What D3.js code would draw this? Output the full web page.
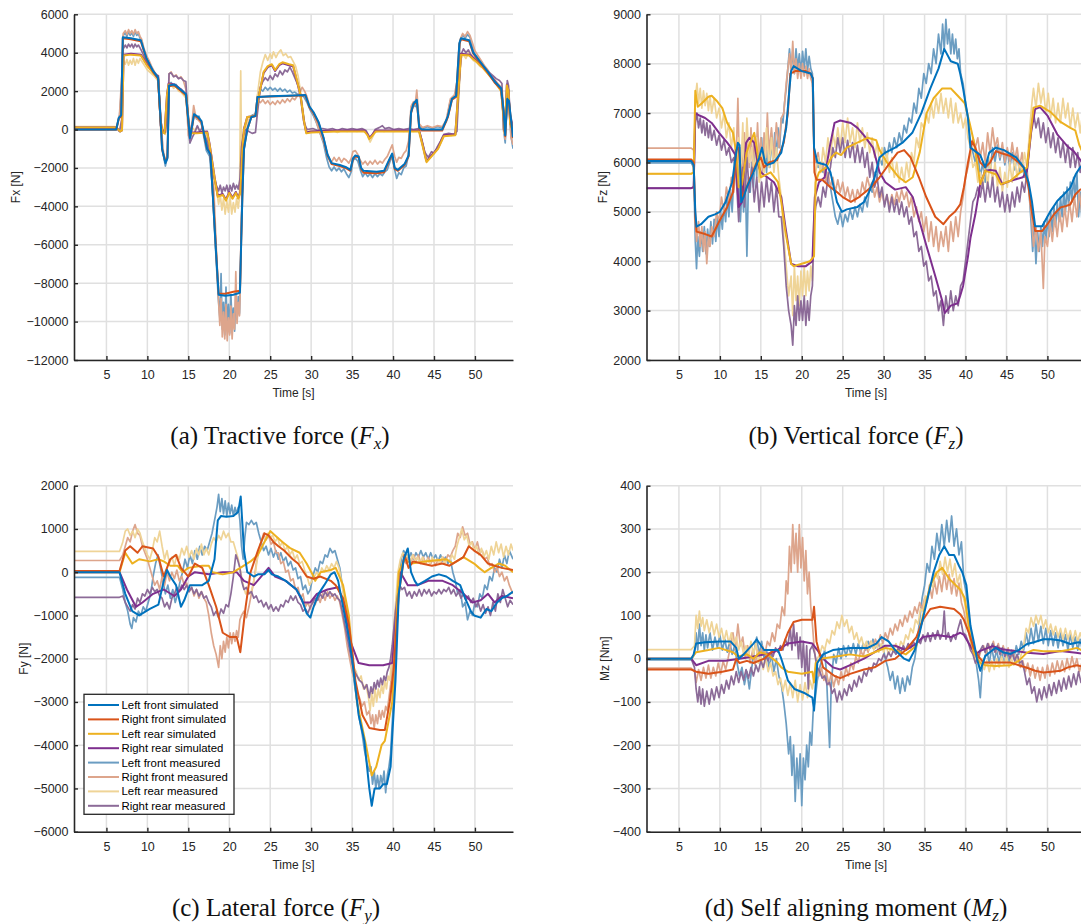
<!DOCTYPE html>
<html>
<head>
<meta charset="utf-8">
<script src="https://cdn.jsdelivr.net/npm/d3@7"></script>
<style>
  body { margin: 0; background: #fff; }
  svg { display: block; }
</style>
</head>
<body>
<svg id="fig" width="1081" height="924"></svg>
<script>
// shared axis settings
const timeDomain = [1.04, 54.65];
const timeTicks = [5, 10, 15, 20, 25, 30, 35, 40, 45, 50];
const seriesNames = ["Left front simulated", "Right front simulated", "Left rear simulated", "Right rear simulated",
  "Left front measured", "Right front measured", "Left rear measured", "Right rear measured"];
const simColors = ["#0072bd", "#d95319", "#edb120", "#7e2f8e"];
const measColors = ["#6b9dc2", "#dda58c", "#efd497", "#8c6b98"];

const fxTicks = [-12000, -10000, -8000, -6000, -4000, -2000, 0, 2000, 4000, 6000];
const fzTicks = [2000, 3000, 4000, 5000, 6000, 7000, 8000, 9000];
const fyTicks = [-6000, -5000, -4000, -3000, -2000, -1000, 0, 1000, 2000];
const mzTicks = [-400, -300, -200, -100, 0, 100, 200, 300, 400];

// ---------- (a) Fx [N] ----------
const fxLFsim = [[1.04,0],[6.2,0],[6.5,600],[6.8,750],[7.0,4800],[8.0,4750],[9.2,4650],[9.9,3700],[10.7,3050],[11.3,2700],[11.55,1000],[11.8,-1000],[12.2,-1750],[12.45,-1500],[12.65,2300],[13.3,2350],[14.0,2100],[14.7,1850],[15.0,500],[15.2,-450],[15.5,300],[15.7,800],[16.2,650],[16.6,450],[16.9,-200],[17.3,-1000],[17.7,-1300],[18.0,-3500],[18.4,-6500],[18.7,-8600],[19.5,-8650],[20.5,-8600],[21.3,-8500],[21.45,-6000],[21.6,-3500],[21.8,-1000],[22.2,0],[22.7,650],[23.2,700],[23.45,1700],[25,1730],[27,1760],[29.3,1800],[29.8,1200],[30.3,900],[30.9,400],[31.5,-400],[32.0,-1300],[32.5,-1750],[33.5,-1850],[34.2,-1950],[34.8,-2100],[35.1,-1500],[35.4,-1350],[35.8,-1400],[36.1,-2000],[36.4,-2150],[38,-2200],[38.9,-2150],[39.6,-1500],[39.9,-1250],[40.2,-2000],[40.6,-2100],[41.4,-1800],[41.9,-1350],[42.2,900],[42.5,1350],[42.9,1550],[43.2,100],[43.5,0],[46,0],[46.7,700],[47.2,1600],[47.7,1750],[48.1,4500],[48.3,4750],[49.3,4650],[49.8,4000],[50.7,3500],[51.6,3000],[52.4,2500],[53.2,2150],[53.5,1000],[53.7,-300],[53.95,1600],[54.15,1500],[54.65,-400]];
const fxRFsim = [[1.04,0],[6.2,0],[6.5,550],[6.8,700],[7.0,4750],[8.0,4700],[9.2,4600],[9.9,3650],[10.7,3000],[11.3,2650],[11.55,900],[11.8,-1050],[12.2,-1700],[12.45,-1450],[12.65,2250],[13.3,2300],[14.0,2050],[14.7,1800],[15.0,450],[15.2,-400],[15.5,250],[15.7,750],[16.2,600],[16.6,400],[16.9,-250],[17.3,-1000],[17.7,-1250],[18.0,-3400],[18.4,-6400],[18.7,-8550],[19.5,-8550],[20.5,-8450],[21.3,-8400],[21.45,-5900],[21.6,-3400],[21.8,-950],[22.2,0],[22.7,650],[23.2,700],[23.45,1700],[25,1720],[27,1750],[29.3,1780],[29.8,1150],[30.3,850],[30.9,350],[31.5,-450],[32.0,-1350],[32.5,-1800],[33.5,-1900],[34.2,-2000],[34.8,-2150],[35.1,-1550],[35.4,-1400],[35.8,-1450],[36.1,-2050],[36.4,-2250],[38,-2280],[38.9,-2230],[39.6,-1550],[39.9,-1300],[40.2,-2050],[40.6,-2150],[41.4,-1850],[41.9,-1400],[42.2,850],[42.5,1300],[42.9,1500],[43.2,50],[43.5,-50],[46,-50],[46.7,650],[47.2,1550],[47.7,1700],[48.1,4450],[48.3,4700],[49.3,4600],[49.8,3950],[50.7,3450],[51.6,2950],[52.4,2450],[53.2,2100],[53.5,950],[53.7,-350],[53.95,1550],[54.15,1450],[54.65,-450]];
const fxLRsim = [[1.04,100],[6.2,100],[6.7,-100],[6.9,-50],[7.1,3850],[8,3900],[9.2,3850],[10,3300],[10.8,2900],[11.3,2700],[11.6,500],[11.85,-150],[12.1,-200],[12.4,1800],[12.6,2350],[13.3,2300],[14.2,2000],[14.75,1750],[15.0,600],[15.2,-200],[16,-200],[17.3,-150],[17.6,-800],[18.2,-2500],[18.6,-3500],[19.2,-3400],[19.6,-3700],[20,-3300],[20.4,-3600],[20.8,-3300],[21.1,-3600],[21.35,-3300],[21.6,-1000],[21.8,0],[22.2,650],[23.2,700],[23.5,1500],[24.2,3000],[24.7,3300],[25.2,3400],[25.6,3100],[26.1,3400],[26.5,3500],[27.3,3400],[27.8,3350],[28.3,2500],[28.7,1800],[29.1,500],[29.4,-200],[30,-150],[33,-100],[36.5,-100],[36.9,-300],[37.1,-500],[37.5,-300],[37.9,-100],[40,-100],[43.2,-100],[43.6,-800],[44.1,-1700],[44.7,-1400],[45.5,-1000],[46.2,-350],[47.6,-300],[47.9,1500],[48.3,3900],[49.3,3850],[50,3600],[51,3200],[52.4,2500],[53.2,2000],[53.5,600],[53.65,-200],[53.9,2300],[54.1,2000],[54.3,300],[54.65,-100]];
const fxRRsim = [[1.04,100],[6.2,100],[6.7,-100],[6.9,-50],[7.1,3900],[8,3950],[9.2,3900],[10,3350],[10.8,2950],[11.3,2750],[11.6,500],[11.85,-100],[12.1,-150],[12.4,1850],[12.6,2400],[13.3,2350],[14.2,2050],[14.75,1800],[15.0,600],[15.2,-150],[16,-150],[17.3,-100],[17.6,-750],[18.2,-2450],[18.6,-3450],[19.2,-3350],[19.6,-3650],[20,-3250],[20.4,-3550],[20.8,-3250],[21.1,-3550],[21.35,-3250],[21.6,-950],[21.8,50],[22.2,650],[23.2,700],[23.5,1500],[24.2,2950],[24.7,3250],[25.2,3350],[25.6,3050],[26.1,3350],[26.5,3450],[27.3,3350],[27.8,3300],[28.3,2450],[28.7,1750],[29.1,450],[29.4,-150],[30,-100],[33,-50],[36.5,-50],[36.9,-250],[37.1,-450],[37.5,-250],[37.9,-50],[40,-50],[43.2,-50],[43.6,-750],[44.1,-1650],[44.7,-1350],[45.5,-950],[46.2,-300],[47.6,-250],[47.9,1550],[48.3,3950],[49.3,3900],[50,3650],[51,3250],[52.4,2550],[53.2,2050],[53.5,650],[53.65,-150],[53.9,2350],[54.1,2050],[54.3,350],[54.65,-50]];
const fxLFmeas = [[1.04,0],[6.2,0],[6.6,700],[6.9,2500],[7.05,4900],[7.3,5050],[7.5,4850],[7.7,5100],[7.9,4900],[8.1,5050],[8.3,4850],[8.5,5100],[8.7,4900],[8.9,5000],[9.1,4750],[9.3,4650],[9.6,4100],[9.9,3800],[10.2,3500],[10.5,3250],[10.8,3000],[11.1,2800],[11.35,2600],[11.6,800],[11.9,-1200],[12.2,-1900],[12.45,-1400],[12.65,2250],[12.9,2450],[13.2,2250],[13.5,2350],[13.8,2150],[14.1,2100],[14.4,1950],[14.7,1750],[15,300],[15.2,-700],[15.5,200],[15.7,900],[16.0,550],[16.3,700],[16.6,300],[16.9,-400],[17.2,-1100],[17.6,-1400],[17.9,-2800],[18.3,-6000],[18.65,-8700],[18.85,-9800],[19.0,-7500],[19.15,-10400],[19.3,-9000],[19.45,-10700],[19.6,-8200],[19.75,-10300],[19.9,-9100],[20.05,-10600],[20.2,-8600],[20.35,-10200],[20.5,-9300],[20.65,-10500],[20.8,-8500],[20.95,-9900],[21.1,-8700],[21.25,-9600],[21.35,-8000],[21.5,-4500],[21.7,-1500],[22.0,-300],[22.4,500],[22.8,750],[23.2,800],[23.5,1900],[23.8,2100],[24.1,2000],[24.4,2200],[24.7,2050],[25.0,2200],[25.3,2050],[25.6,2150],[25.9,2000],[26.2,2150],[26.5,2000],[26.8,2100],[27.1,1950],[27.4,2050],[27.7,1900],[28.0,1950],[28.3,1850],[28.7,1800],[29.1,1700],[29.5,1400],[29.9,1000],[30.3,700],[30.7,300],[31.1,-200],[31.5,-700],[31.9,-1500],[32.2,-1950],[32.5,-2150],[32.8,-1950],[33.1,-2150],[33.4,-2000],[33.7,-2200],[34.0,-2050],[34.3,-2300],[34.6,-2500],[34.9,-2200],[35.1,-1600],[35.4,-1500],[35.7,-1650],[36.0,-2100],[36.3,-2450],[36.6,-2250],[36.9,-2450],[37.2,-2300],[37.5,-2500],[37.8,-2300],[38.1,-2450],[38.4,-2300],[38.7,-2400],[39.0,-2200],[39.3,-2100],[39.6,-1700],[39.9,-1400],[40.2,-2100],[40.45,-2550],[40.7,-2250],[41.0,-2350],[41.3,-2000],[41.6,-1900],[41.9,-1300],[42.2,900],[42.5,1300],[42.7,1200],[42.9,1650],[43.2,200],[43.6,50],[44.2,150],[44.8,50],[45.4,150],[46.0,100],[46.5,400],[47.0,1500],[47.5,1700],[47.9,2500],[48.2,4600],[48.5,4950],[48.8,4750],[49.1,4950],[49.4,4800],[49.7,4300],[50.0,3900],[50.3,3750],[50.6,3500],[50.9,3400],[51.2,3150],[51.5,3050],[51.8,2800],[52.1,2700],[52.4,2500],[52.7,2400],[53.0,2250],[53.3,2000],[53.5,0],[53.7,-700],[53.95,1800],[54.2,1200],[54.4,-300],[54.65,-1000]];
const fxRFmeas = [[1.04,0],[6.2,0],[6.6,800],[6.9,3000],[7.05,5000],[7.3,5150],[7.5,4950],[7.7,5200],[7.9,5000],[8.1,5150],[8.3,4950],[8.5,5200],[8.7,5000],[8.9,5100],[9.1,4850],[9.3,4700],[9.6,4200],[9.9,3850],[10.2,3600],[10.5,3300],[10.8,3050],[11.1,2850],[11.35,2700],[11.6,900],[11.9,-1000],[12.2,-1700],[12.45,-1200],[12.65,2900],[12.9,3000],[13.2,2750],[13.5,2850],[13.8,2650],[14.1,2750],[14.4,2550],[14.7,2100],[15,-300],[15.2,-500],[15.5,600],[15.65,1250],[15.9,700],[16.2,500],[16.5,350],[16.8,100],[17.1,-500],[17.4,-900],[17.8,-1300],[18.1,-2900],[18.4,-6000],[18.65,-8600],[18.85,-10200],[19.0,-8800],[19.15,-10800],[19.3,-9500],[19.45,-10900],[19.6,-9100],[19.75,-11000],[19.9,-9800],[20.05,-10700],[20.2,-9200],[20.35,-10900],[20.5,-9600],[20.65,-10400],[20.8,-7400],[20.95,-10100],[21.1,-9000],[21.25,-9700],[21.35,-8200],[21.5,-4800],[21.7,-1500],[22.0,-300],[22.4,400],[22.8,700],[23.2,800],[23.5,1500],[23.8,1400],[24.1,1550],[24.4,1350],[24.7,1500],[25.0,1300],[25.3,1450],[25.6,1300],[25.9,1500],[26.2,1350],[26.5,1550],[26.8,1400],[27.1,1600],[27.4,1450],[27.7,1650],[28.0,1550],[28.3,1750],[28.6,1900],[28.9,2200],[29.2,2000],[29.5,1700],[29.9,1100],[30.3,800],[30.7,300],[31.1,-200],[31.5,-600],[31.9,-1200],[32.2,-1500],[32.5,-1700],[32.8,-1450],[33.1,-1650],[33.4,-1450],[33.7,-1700],[34.0,-1500],[34.3,-1600],[34.6,-1750],[34.9,-1500],[35.1,-1150],[35.4,-1100],[35.7,-1300],[36.0,-1600],[36.3,-1800],[36.6,-1650],[36.9,-1850],[37.2,-1650],[37.5,-1800],[37.8,-1600],[38.1,-1800],[38.4,-1650],[38.7,-1750],[39.0,-1550],[39.3,-1400],[39.6,-1100],[39.9,-800],[40.2,-1400],[40.45,-1700],[40.7,-1450],[41.0,-1500],[41.3,-1250],[41.6,-1100],[41.9,-600],[42.2,1200],[42.5,1450],[42.7,1300],[42.9,2050],[43.2,300],[43.6,100],[44.2,200],[44.8,100],[45.4,200],[46.0,150],[46.5,500],[47.0,1600],[47.5,1800],[47.9,2700],[48.2,4700],[48.5,5000],[48.8,4850],[49.1,5100],[49.4,4900],[49.7,4500],[50.0,4100],[50.3,3900],[50.6,3700],[50.9,3500],[51.2,3300],[51.5,3150],[51.8,2950],[52.1,2750],[52.4,2600],[52.7,2450],[53.0,2300],[53.3,2150],[53.5,100],[53.7,-500],[53.95,1600],[54.2,1000],[54.4,-400],[54.65,-800]];
const fxLRmeas = [[1.04,150],[6.2,150],[6.6,-100],[6.9,500],[7.05,3600],[7.3,3400],[7.5,3650],[7.7,3350],[7.9,3600],[8.1,3400],[8.3,3700],[8.5,3350],[8.7,3650],[8.9,3450],[9.1,3700],[9.4,3500],[9.7,3300],[10.0,3100],[10.4,2950],[10.8,2800],[11.1,2650],[11.35,2500],[11.6,300],[11.9,-150],[12.2,-250],[12.45,500],[12.65,2250],[12.9,2350],[13.2,2150],[13.5,2250],[13.8,2000],[14.1,1950],[14.4,1800],[14.7,1650],[15,200],[15.2,-300],[15.5,100],[15.8,-50],[16.1,150],[16.4,-100],[16.7,0],[17.0,-200],[17.3,-400],[17.6,-1000],[17.9,-1800],[18.2,-2800],[18.5,-3300],[18.7,-3900],[18.9,-3400],[19.1,-4200],[19.3,-3600],[19.5,-4400],[19.7,-3700],[19.9,-4300],[20.1,-3500],[20.3,-4400],[20.5,-3800],[20.7,-4300],[20.9,-3600],[21.1,-4100],[21.25,-3500],[21.4,3050],[21.5,-1500],[21.7,-400],[22.0,100],[22.4,550],[22.8,700],[23.2,750],[23.5,2000],[23.8,3000],[24.1,3500],[24.4,3900],[24.7,3600],[25.0,3950],[25.2,3700],[25.4,4050],[25.7,3750],[26.0,4000],[26.3,4150],[26.6,3850],[26.9,3950],[27.2,3750],[27.5,3800],[27.8,3550],[28.1,3300],[28.4,2800],[28.7,2000],[29.0,1000],[29.3,0],[29.6,-100],[30.2,-50],[30.8,-150],[31.4,-50],[32.0,-100],[32.6,-50],[33.2,-150],[33.8,-50],[34.4,-100],[35.0,-50],[35.6,-100],[36.2,-50],[36.7,-150],[37.0,-450],[37.2,-650],[37.5,-400],[37.8,-150],[38.3,-50],[38.9,-100],[39.5,-50],[40.1,-100],[40.7,-50],[41.3,-100],[41.9,-50],[42.5,-100],[43.1,-50],[43.5,-700],[44.0,-1600],[44.5,-1500],[45.0,-1250],[45.5,-950],[46.0,-400],[46.6,-250],[47.2,-300],[47.7,-250],[48.0,1500],[48.3,3700],[48.6,3900],[48.9,3700],[49.2,4000],[49.5,3750],[49.8,3600],[50.2,3500],[50.6,3300],[51.0,3200],[51.4,3000],[51.8,2800],[52.2,2600],[52.6,2350],[53.0,2150],[53.3,1900],[53.5,-100],[53.7,-300],[53.95,2200],[54.1,2000],[54.3,400],[54.65,-200]];
const fxRRmeas = [[1.04,100],[6.2,100],[6.6,-100],[6.9,600],[7.05,4200],[7.3,4400],[7.5,4250],[7.7,4450],[7.9,4300],[8.1,4450],[8.3,4250],[8.5,4450],[8.7,4300],[8.9,4400],[9.1,4250],[9.4,4000],[9.7,3700],[10.0,3500],[10.4,3200],[10.8,3000],[11.1,2850],[11.35,2800],[11.6,200],[11.9,-50],[12.2,-150],[12.45,800],[12.65,2900],[12.9,2950],[13.2,2750],[13.5,2800],[13.8,2650],[14.1,2700],[14.4,2550],[14.7,2500],[15,300],[15.2,-700],[15.5,-400],[15.8,-150],[16.1,200],[16.4,-100],[16.7,100],[17.0,-300],[17.3,-600],[17.6,-1200],[17.9,-2000],[18.2,-2600],[18.5,-3000],[18.7,-3200],[18.9,-2900],[19.1,-3300],[19.3,-3000],[19.5,-3200],[19.7,-2900],[19.9,-3300],[20.1,-2900],[20.3,-3200],[20.5,-2800],[20.7,-3100],[20.9,-2900],[21.1,-3100],[21.3,-2600],[21.5,-900],[21.7,-300],[22.0,0],[22.4,-100],[22.8,-200],[23.2,-150],[23.4,700],[23.8,2200],[24.1,2500],[24.4,2700],[24.7,2550],[25.0,2800],[25.3,2600],[25.6,2900],[25.9,2750],[26.2,3050],[26.5,2850],[26.8,3100],[27.1,3000],[27.4,3250],[27.7,3000],[28.0,2700],[28.3,2400],[28.6,2100],[28.9,1200],[29.2,300],[29.5,0],[30.2,50],[30.8,-50],[31.4,50],[32.0,0],[32.6,50],[33.2,-50],[33.8,50],[34.4,0],[35.0,50],[35.6,0],[36.2,50],[36.7,-50],[37.0,-300],[37.2,-450],[37.5,-250],[37.8,0],[38.3,100],[38.7,200],[39.0,50],[39.5,100],[40.1,0],[40.7,50],[41.3,0],[41.9,50],[42.5,0],[43.1,50],[43.5,-500],[43.9,-1200],[44.3,-1450],[44.7,-1150],[45.0,-1250],[45.4,-900],[45.8,-600],[46.2,-250],[46.8,-200],[47.4,-250],[47.8,-100],[48.0,1800],[48.3,3900],[48.6,4200],[48.9,4000],[49.2,4150],[49.5,3900],[49.8,3750],[50.2,3600],[50.6,3400],[51.0,3250],[51.4,3100],[51.8,2950],[52.2,2800],[52.6,2650],[53.0,2550],[53.3,2400],[53.5,0],[53.7,-200],[53.95,2550],[54.1,2300],[54.3,800],[54.65,200]];

// ---------- (b) Fz [N] ----------
const fzLFsim = [[1.04,6030],[6.5,6030],[6.8,5950],[7.0,5000],[7.15,4700],[7.7,4750],[8.6,4900],[9.4,4950],[10.0,5000],[10.7,5200],[11.5,5600],[12.0,6200],[12.2,6400],[12.4,6350],[12.6,5200],[12.9,5300],[13.3,5500],[14.1,5800],[14.8,6100],[15.15,6300],[15.5,6000],[15.8,5950],[16.6,6000],[17.5,6200],[18.1,6700],[18.5,7500],[18.7,7850],[19.0,7950],[20.0,7850],[21.1,7800],[21.35,7700],[21.5,6300],[21.9,6000],[23.0,5950],[23.5,5800],[23.9,5500],[24.3,5200],[24.9,5000],[25.5,5050],[26.8,5100],[27.6,5200],[28.2,5400],[28.9,5700],[29.5,6100],[30.2,6200],[31.4,6300],[32.3,6400],[33.5,6600],[34.6,7000],[35.7,7500],[36.7,7900],[37.4,8300],[38.2,8050],[39.05,8000],[39.35,7800],[39.7,7500],[40.3,6900],[40.6,6300],[41.4,6200],[41.8,6150],[42.4,5900],[42.9,6200],[43.7,6300],[44.7,6250],[45.5,6170],[46.2,6100],[47.1,5900],[47.7,5600],[48.1,5220],[48.5,4710],[49.35,4710],[50.4,5020],[51.2,5220],[52.0,5350],[52.8,5490],[53.45,5760],[54.0,5900],[54.65,6000]];
const fzRFsim = [[1.04,6060],[6.5,6060],[6.8,6000],[7.0,4900],[7.15,4600],[8.2,4550],[9.0,4500],[9.9,4800],[10.9,5100],[11.6,5400],[12.0,6250],[12.3,6300],[12.5,5900],[12.7,5250],[13.5,5600],[14.5,6000],[15.0,6100],[15.4,5900],[16.0,6000],[17.0,6050],[17.8,6400],[18.3,7000],[18.6,7800],[19.2,7850],[20.5,7850],[21.1,7800],[21.35,7700],[21.55,5800],[21.8,5650],[22.5,5650],[23.5,5500],[24.3,5400],[25.0,5300],[26.0,5200],[27.0,5300],[28.5,5500],[29.5,5700],[30.8,6000],[31.7,6200],[32.5,6250],[33.3,6100],[34.3,5700],[35.2,5300],[36.3,4900],[37.3,4750],[38.0,4900],[38.7,5000],[39.35,5150],[39.8,5500],[40.3,6000],[40.8,6430],[41.2,6300],[41.8,6000],[42.4,5900],[43.0,6000],[43.7,6230],[44.5,6180],[45.5,6130],[46.5,6000],[47.1,5900],[47.7,5500],[48.1,5000],[48.5,4610],[49.35,4610],[50.0,4750],[50.8,4950],[51.6,5090],[52.3,5120],[52.8,5150],[53.4,5350],[54.0,5450],[54.65,5500]];
const fzLRsim = [[1.04,5770],[6.5,5770],[6.8,5800],[7.0,7450],[7.3,7130],[7.8,7200],[8.6,7330],[9.0,7350],[9.6,7250],[10.3,7100],[10.9,6800],[11.6,6600],[12.0,6200],[12.3,5500],[12.7,5550],[13.25,6200],[13.7,6400],[14.2,6600],[14.5,6300],[15.0,5700],[15.6,5750],[16.2,5800],[17.1,5600],[17.5,5200],[18.0,4600],[18.7,3950],[19.0,3900],[20.0,3950],[21.0,4000],[21.5,4100],[21.7,5600],[22.1,5800],[23.0,5900],[23.6,6100],[24.2,6200],[24.8,6150],[25.5,6300],[26.8,6400],[28.05,6500],[29.1,6450],[29.5,6250],[30.4,6000],[31.85,5700],[32.7,5600],[33.55,5700],[34.4,6200],[35.25,7000],[36.1,7300],[37.15,7500],[38.2,7500],[39.05,7350],[39.9,7200],[40.5,6800],[41.0,6435],[41.4,6000],[41.8,5560],[42.4,5830],[43.0,5800],[43.7,5760],[44.3,5560],[45.5,5630],[46.7,5800],[47.5,5900],[47.9,6500],[48.3,7110],[49.1,7150],[50.4,7020],[51.6,6820],[52.8,6700],[53.4,6650],[53.9,6350],[54.3,6200],[54.65,6100]];
const fzRRsim = [[1.04,5480],[6.5,5480],[6.8,5500],[7.0,7000],[7.5,6950],[8.2,6900],[9.0,6800],[9.9,6600],[10.9,6400],[11.35,6300],[11.9,6150],[12.3,5100],[12.7,5200],[13.2,6400],[13.6,6500],[14.2,6400],[14.6,6000],[15.0,5800],[15.8,5700],[16.6,5600],[17.5,5300],[18.0,4700],[18.7,3950],[19.5,3900],[20.5,3900],[21.3,4000],[21.6,5300],[22.1,5600],[22.8,5700],[23.4,6300],[24.0,6800],[24.7,6850],[26.0,6800],[26.8,6700],[27.6,6550],[28.7,6300],[29.5,5800],[30.2,5600],[31.4,5450],[32.7,5500],[33.55,5300],[34.4,4800],[35.25,4300],[36.3,3700],[37.15,3200],[37.45,2950],[38.2,3100],[39.05,3150],[39.35,3300],[39.7,3500],[40.3,4100],[40.6,4470],[41.2,4950],[41.8,5560],[42.4,5830],[43.0,5850],[43.7,5830],[44.5,5560],[45.5,5630],[47.0,5700],[47.5,5830],[48.0,6600],[48.5,7080],[49.1,7120],[50.0,6950],[51.2,6570],[52.4,6335],[53.2,6230],[53.8,6100],[54.65,5900]];
const fzLFmeas = [[1.04,5990],[6.5,5990],[6.8,5900],[7.0,4400],[7.15,3850],[7.3,4500],[7.5,4100],[7.7,4600],[7.9,4200],[8.1,4700],[8.3,4150],[8.5,4650],[8.7,4300],[8.9,4800],[9.1,4350],[9.3,4850],[9.5,4400],[9.7,4900],[9.9,4500],[10.1,5000],[10.3,4650],[10.5,5150],[10.7,4800],[10.9,5300],[11.1,4900],[11.3,5450],[11.5,5000],[11.7,5700],[11.9,6300],[12.1,6400],[12.3,5400],[12.5,4800],[12.7,5500],[12.9,5000],[13.1,5800],[13.3,4100],[13.5,5700],[13.7,5400],[13.9,6000],[14.1,5500],[14.3,6200],[14.5,5700],[14.7,6400],[14.9,6000],[15.1,6500],[15.3,5900],[15.5,6300],[15.7,5800],[15.9,6400],[16.1,5900],[16.3,6500],[16.5,6000],[16.7,6600],[16.9,6100],[17.1,6700],[17.3,6300],[17.5,6900],[17.7,6800],[17.9,7200],[18.1,7500],[18.3,7900],[18.5,8300],[18.7,7900],[18.9,8250],[19.1,7800],[19.3,8300],[19.5,7900],[19.7,8200],[19.9,7800],[20.1,8250],[20.3,7900],[20.5,8300],[20.7,7850],[20.9,8150],[21.1,7900],[21.3,7800],[21.5,6300],[21.7,6100],[22.0,5900],[22.3,6000],[22.6,5800],[22.9,5900],[23.2,5600],[23.5,5500],[23.8,5200],[24.1,4900],[24.4,4750],[24.7,5000],[25.0,4700],[25.3,4950],[25.6,4800],[25.9,5050],[26.2,4850],[26.5,5100],[26.8,4900],[27.1,5150],[27.4,5000],[27.7,5300],[28.0,5100],[28.3,5500],[28.6,5400],[28.9,5800],[29.2,5700],[29.5,6100],[29.8,5950],[30.1,6300],[30.4,6100],[30.7,6400],[31.0,6200],[31.3,6500],[31.6,6300],[31.9,6600],[32.2,6400],[32.5,6750],[32.8,6600],[33.1,6900],[33.4,6800],[33.7,7200],[34.0,7000],[34.3,7500],[34.6,7300],[34.9,7800],[35.2,7600],[35.5,8000],[35.8,7800],[36.1,8300],[36.4,8000],[36.7,8600],[37.0,8200],[37.2,8800],[37.4,8300],[37.6,8900],[37.8,8400],[38.0,8700],[38.2,8200],[38.4,8600],[38.6,8200],[38.8,8500],[39.0,8100],[39.2,8300],[39.4,7800],[39.7,7600],[40.0,7200],[40.3,6900],[40.6,6400],[40.9,6200],[41.2,6000],[41.5,6200],[41.8,5700],[42.1,6000],[42.4,5600],[42.7,6100],[43.0,5800],[43.3,6300],[43.6,6000],[43.9,6350],[44.2,6050],[44.5,6300],[44.8,5950],[45.1,6250],[45.4,5900],[45.7,6200],[46.0,5850],[46.3,6150],[46.6,5800],[46.9,6000],[47.2,5700],[47.5,5800],[47.8,5300],[48.0,4800],[48.2,4200],[48.4,4700],[48.6,3950],[48.8,4600],[49.0,4200],[49.2,4700],[49.4,4300],[49.6,4800],[49.8,4400],[50.0,4900],[50.2,4500],[50.4,5000],[50.6,4600],[50.8,5100],[51.0,4700],[51.2,5200],[51.4,4800],[51.6,5300],[51.8,4900],[52.0,5400],[52.2,5000],[52.4,5500],[52.6,5100],[52.8,5600],[53.0,5200],[53.2,5700],[53.4,5300],[53.6,5800],[53.8,4900],[54.0,5400],[54.3,4600],[54.65,5100]];
const fzRFmeas = [[1.04,6290],[6.5,6290],[6.8,6250],[7.0,4800],[7.15,4400],[7.4,4800],[7.6,4300],[7.8,4700],[8.0,4200],[8.2,4600],[8.4,3950],[8.6,4500],[8.8,4300],[9.0,4700],[9.3,4500],[9.6,5000],[9.9,4800],[10.2,5300],[10.5,5000],[10.8,5500],[11.1,5200],[11.4,5700],[11.7,5400],[12.0,6100],[12.2,7300],[12.4,5800],[12.6,6300],[12.8,5700],[13.0,6600],[13.2,5800],[13.4,6400],[13.6,5900],[13.8,6700],[14.0,5900],[14.2,6500],[14.4,6000],[14.6,6800],[14.8,6000],[15.0,6500],[15.2,5800],[15.4,6600],[15.6,6100],[15.8,7000],[16.0,6200],[16.3,6700],[16.6,6100],[16.9,6800],[17.2,6300],[17.5,6900],[17.8,7000],[18.1,7600],[18.3,7900],[18.5,8200],[18.7,7800],[18.9,8450],[19.1,7800],[19.3,8100],[19.5,7700],[19.7,8000],[19.9,7700],[20.1,8000],[20.3,7750],[20.5,7950],[20.7,7700],[20.9,7900],[21.1,7700],[21.3,7600],[21.5,6300],[21.7,6000],[22.0,6200],[22.3,5800],[22.6,6000],[22.9,5600],[23.2,5800],[23.5,5500],[23.8,5700],[24.1,5400],[24.4,5650],[24.7,5400],[25.0,5600],[25.3,5300],[25.6,5500],[25.9,5250],[26.2,5450],[26.5,5200],[26.8,5450],[27.1,5300],[27.4,5600],[27.7,5400],[28.0,5700],[28.3,5500],[28.6,5600],[28.9,5300],[29.2,5500],[29.5,5200],[29.8,5400],[30.1,5150],[30.4,5350],[30.7,5100],[31.0,5350],[31.3,5150],[31.6,5400],[31.9,5200],[32.2,5450],[32.5,5250],[32.8,5400],[33.1,5100],[33.4,5300],[33.7,4900],[34.0,5100],[34.3,4800],[34.6,5000],[34.9,4600],[35.2,4900],[35.5,4400],[35.8,4800],[36.1,4300],[36.4,4700],[36.7,4200],[37.0,4600],[37.3,4300],[37.6,4700],[37.9,4200],[38.2,4800],[38.5,4400],[38.8,4900],[39.1,4500],[39.4,5000],[39.7,5300],[40.0,5700],[40.3,5900],[40.6,6200],[40.9,6500],[41.2,6300],[41.5,6500],[41.8,6100],[42.1,6400],[42.4,6000],[42.7,6600],[43.0,6200],[43.3,6700],[43.6,6300],[43.9,6500],[44.2,6100],[44.5,6400],[44.8,6000],[45.1,6300],[45.4,6000],[45.7,6400],[46.0,6050],[46.3,6300],[46.6,5900],[46.9,6200],[47.2,5800],[47.5,5900],[47.8,5300],[48.1,4800],[48.3,4300],[48.6,4700],[48.9,4200],[49.2,4600],[49.5,3450],[49.7,4500],[50.0,4300],[50.3,4800],[50.6,4400],[50.9,4900],[51.2,4500],[51.5,5000],[51.8,4600],[52.1,5100],[52.4,4700],[52.7,5200],[53.0,4800],[53.3,5300],[53.6,4900],[53.9,5400],[54.2,5000],[54.65,5300]];
const fzLRmeas = [[1.04,5770],[6.5,5770],[6.8,5800],[7.0,7300],[7.2,7600],[7.4,7200],[7.6,7500],[7.8,7100],[8.0,7450],[8.2,7150],[8.4,7400],[8.6,7050],[8.8,7350],[9.0,7000],[9.3,7300],[9.6,6900],[9.9,7100],[10.2,6700],[10.5,7000],[10.8,6500],[11.1,6800],[11.4,6300],[11.7,6700],[12.0,5800],[12.3,6500],[12.5,5600],[12.8,6800],[13.0,5500],[13.3,6900],[13.6,6000],[13.9,6300],[14.2,5800],[14.5,6500],[14.8,5600],[15.1,6200],[15.4,5800],[15.7,6700],[16.0,5900],[16.3,6500],[16.6,5800],[16.9,6300],[17.2,5700],[17.5,5300],[17.8,4500],[18.1,3900],[18.4,3300],[18.7,3700],[18.9,2900],[19.1,3900],[19.3,3200],[19.5,3700],[19.7,3100],[19.9,3800],[20.1,3300],[20.3,3900],[20.5,3300],[20.7,3800],[20.9,3400],[21.1,3900],[21.3,3600],[21.5,5000],[21.7,5800],[22.0,6100],[22.3,5800],[22.6,6300],[22.9,6000],[23.2,6500],[23.5,6100],[23.8,6600],[24.1,6300],[24.4,6700],[24.7,6300],[25.0,6800],[25.3,6400],[25.6,6900],[25.9,6400],[26.2,6700],[26.5,6300],[26.8,6800],[27.1,6400],[27.4,6700],[27.7,6300],[28.0,6600],[28.3,6200],[28.6,6500],[28.9,6100],[29.2,6400],[29.5,6000],[29.8,6300],[30.1,5900],[30.4,6200],[30.7,5800],[31.0,6100],[31.3,5700],[31.6,6000],[31.9,5600],[32.2,5900],[32.5,5600],[32.8,6000],[33.1,5700],[33.4,6200],[33.7,6000],[34.0,6500],[34.3,6300],[34.6,6800],[34.9,6700],[35.2,7000],[35.5,6800],[35.8,7200],[36.1,6900],[36.4,7300],[36.7,7000],[37.0,7400],[37.3,7000],[37.6,7300],[37.9,6900],[38.2,7300],[38.5,6800],[38.8,7200],[39.1,6800],[39.4,7000],[39.7,6700],[40.0,6900],[40.3,6500],[40.6,6300],[40.9,5900],[41.2,6000],[41.5,5600],[41.8,5800],[42.1,5500],[42.4,6000],[42.7,5500],[43.0,6100],[43.3,5600],[43.6,6000],[43.9,5500],[44.2,5900],[44.5,5400],[44.8,5800],[45.1,5500],[45.4,6000],[45.7,5600],[46.0,6100],[46.3,5700],[46.6,6000],[46.9,5800],[47.2,6200],[47.5,5900],[47.8,6600],[48.1,7200],[48.3,7500],[48.6,7100],[48.9,7600],[49.2,7200],[49.5,7500],[49.8,7000],[50.1,7400],[50.4,6900],[50.7,7300],[51.0,6800],[51.3,7200],[51.6,6800],[51.9,7300],[52.2,6900],[52.5,7200],[52.8,6700],[53.1,7100],[53.4,6700],[53.7,7000],[54.0,6600],[54.3,7000],[54.65,6700]];
const fzRRmeas = [[1.04,5480],[6.5,5480],[6.8,5500],[7.0,6800],[7.2,7000],[7.4,6700],[7.6,6900],[7.8,6600],[8.0,6850],[8.2,6550],[8.4,6800],[8.6,6500],[8.8,6750],[9.0,6450],[9.3,6650],[9.6,6350],[9.9,6550],[10.2,6250],[10.5,6450],[10.8,6150],[11.1,6300],[11.4,6000],[11.7,6100],[12.0,5700],[12.3,4800],[12.5,5500],[12.8,5900],[13.0,5100],[13.3,6100],[13.6,5400],[13.9,5900],[14.2,5200],[14.5,5700],[14.8,5000],[15.1,5600],[15.4,5100],[15.7,5700],[16.0,5200],[16.3,5600],[16.6,5000],[16.9,5500],[17.2,4900],[17.5,4900],[17.8,4300],[18.1,3500],[18.4,3000],[18.7,2700],[18.9,2300],[19.1,3100],[19.3,2700],[19.5,3300],[19.7,2800],[19.9,3200],[20.1,2800],[20.3,3300],[20.5,2700],[20.7,3200],[20.9,2800],[21.1,3300],[21.3,3500],[21.5,4800],[21.7,5100],[22.0,5300],[22.3,5100],[22.6,5500],[22.9,5300],[23.2,5700],[23.5,5900],[23.8,6300],[24.1,6100],[24.4,6500],[24.7,6200],[25.0,6500],[25.3,6100],[25.6,6450],[25.9,6100],[26.2,6400],[26.5,6000],[26.8,6350],[27.1,6000],[27.4,6300],[27.7,5900],[28.0,6200],[28.3,5700],[28.6,6000],[28.9,5500],[29.2,5700],[29.5,5300],[29.8,5500],[30.1,5100],[30.4,5350],[30.7,5000],[31.0,5300],[31.3,5000],[31.6,5250],[31.9,4950],[32.2,5200],[32.5,4900],[32.8,5100],[33.1,4750],[33.4,4900],[33.7,4500],[34.0,4600],[34.3,4200],[34.6,4300],[34.9,3900],[35.2,4000],[35.5,3600],[35.8,3700],[36.1,3300],[36.4,3400],[36.7,3000],[37.0,3200],[37.3,2700],[37.6,3300],[37.9,2950],[38.2,3400],[38.5,3000],[38.8,3300],[39.1,3100],[39.4,3500],[39.7,3600],[40.0,4000],[40.3,4400],[40.6,4800],[40.9,5200],[41.2,5300],[41.5,5500],[41.8,5300],[42.1,5600],[42.4,5200],[42.7,5600],[43.0,5300],[43.3,5700],[43.6,5200],[43.9,5500],[44.2,5100],[44.5,5400],[44.8,5000],[45.1,5350],[45.4,5000],[45.7,5400],[46.0,5100],[46.3,5500],[46.6,5200],[46.9,5600],[47.2,5400],[47.5,5800],[47.8,6300],[48.1,6800],[48.3,7000],[48.6,6700],[48.9,6900],[49.2,6500],[49.5,6800],[49.8,6400],[50.1,6700],[50.4,6300],[50.7,6600],[51.0,6200],[51.3,6500],[51.6,6100],[51.9,6400],[52.2,6000],[52.5,6350],[52.8,5900],[53.1,6300],[53.4,5900],[53.7,6200],[54.0,5800],[54.3,6100],[54.65,5800]];

// ---------- (c) Fy [N] ----------
const fyLFsim = [[1.04,0],[6.6,0],[7.3,-500],[8.15,-900],[9.0,-1000],[10.3,-850],[11.35,-750],[12.0,-200],[12.4,50],[12.8,-100],[13.5,-300],[14.1,-800],[14.5,-650],[15.2,-300],[15.8,-300],[16.7,-300],[17.5,-200],[18.2,300],[18.6,1200],[19.0,1300],[19.65,1280],[20.5,1300],[21.1,1400],[21.4,1750],[21.8,500],[22.2,0],[23.0,-100],[23.5,-50],[24.3,-50],[24.8,50],[25.2,-50],[26.0,-100],[26.9,-200],[28.2,-400],[28.8,-600],[29.45,-950],[29.9,-1050],[30.3,-800],[30.9,-500],[31.6,-300],[32.4,-50],[32.85,0],[33.3,-200],[33.9,-800],[34.6,-1500],[35.0,-2000],[35.8,-3300],[36.5,-3900],[37.1,-5000],[37.4,-5400],[37.75,-5000],[38.4,-5000],[38.8,-4900],[39.25,-4900],[39.7,-4500],[39.9,-3800],[40.3,-2500],[40.7,-500],[41.3,300],[41.8,550],[42.2,0],[42.65,-200],[43.0,-300],[43.9,-200],[44.75,-100],[45.6,-50],[46.5,-100],[47.3,-200],[48.2,-300],[48.8,-600],[49.5,-900],[49.9,-1000],[50.7,-1050],[51.4,-850],[52.0,-900],[52.7,-700],[53.3,-600],[53.9,-550],[54.65,-450]];
const fyRFsim = [[1.04,30],[6.6,30],[7.3,500],[7.9,600],[8.8,450],[9.4,600],[10.7,550],[11.35,350],[12.0,-100],[12.8,300],[13.5,400],[14.1,100],[15.0,-100],[15.8,200],[16.7,100],[17.5,-300],[18.4,-800],[19.2,-1400],[20.1,-1500],[20.9,-1500],[21.35,-1850],[22.0,-800],[22.6,0],[23.5,500],[24.3,900],[24.8,850],[25.4,700],[26.0,600],[26.7,500],[27.75,300],[28.4,200],[29.45,-100],[30.3,-150],[31.1,-100],[32.4,-200],[33.0,-300],[33.9,-600],[34.6,-1200],[35.0,-1800],[35.4,-2500],[36.26,-3300],[37.1,-3600],[38.4,-3650],[39.0,-3650],[39.6,-3000],[40.1,-2200],[40.7,-500],[41.4,400],[41.9,100],[42.45,250],[43.5,200],[44.75,150],[46.0,200],[46.9,150],[47.75,250],[48.6,350],[49.25,600],[49.9,500],[50.7,400],[51.6,200],[52.4,150],[53.3,100],[54.65,50]];
const fyLRsim = [[1.04,0],[6.6,0],[7.3,450],[8.15,200],[9.0,300],[10.3,250],[11.35,300],[12.0,250],[12.8,150],[13.7,150],[14.3,0],[15.0,100],[16.7,150],[17.5,150],[17.95,0],[19.2,-50],[20.5,0],[21.35,100],[22.6,250],[23.5,400],[24.3,700],[25.0,950],[25.6,850],[26.5,700],[27.5,550],[28.6,450],[29.45,200],[30.3,-100],[30.5,-200],[31.15,0],[32.4,50],[33.0,100],[33.9,-300],[34.6,-1000],[35.07,-2000],[35.6,-3000],[36.7,-4000],[37.4,-4700],[37.95,-4500],[38.6,-4000],[39.0,-3900],[39.4,-3500],[39.9,-3000],[40.3,-1500],[40.7,0],[41.4,300],[42.25,200],[43.9,250],[46.5,300],[47.3,200],[48.6,350],[49.9,200],[50.5,100],[51.2,0],[52.0,100],[52.9,200],[53.7,150],[54.65,0]];
const fyRRsim = [[1.04,0],[6.6,0],[7.5,-400],[8.6,-800],[9.4,-700],[10.7,-500],[12.0,-400],[13.3,-550],[14.1,-400],[15.0,-100],[15.8,0],[17.5,-50],[19.2,0],[20.9,0],[21.8,-200],[23.0,-300],[24.8,100],[25.6,-100],[26.9,-200],[28.2,-400],[29.0,-700],[29.9,-700],[30.7,-500],[32.0,-400],[33.3,-350],[34.1,-800],[34.6,-1500],[35.8,-2100],[37.1,-2150],[38.8,-2150],[39.9,-2100],[40.4,-1000],[40.9,0],[41.8,-300],[43.0,-300],[44.3,-200],[46.06,-200],[47.3,-300],[48.6,-500],[49.7,-700],[50.7,-650],[51.6,-500],[52.4,-700],[53.3,-550],[54.65,-600]];
const fyLFmeas = [[1.04,-120],[6.6,-120],[7.0,-400],[7.3,-700],[7.6,-900],[7.9,-1200],[8.1,-1300],[8.3,-1050],[8.6,-1150],[8.9,-900],[9.2,-1000],[9.5,-800],[9.8,-900],[10.1,-700],[10.4,-500],[10.7,-100],[11.0,200],[11.3,400],[11.6,100],[11.9,-200],[12.2,-500],[12.5,-300],[12.8,-600],[13.1,-400],[13.4,-700],[13.7,-500],[14.0,-200],[14.3,0],[14.6,300],[14.9,100],[15.2,400],[15.5,200],[15.8,500],[16.1,300],[16.4,600],[16.7,400],[17.0,600],[17.3,500],[17.6,700],[17.9,900],[18.2,1200],[18.5,1500],[18.7,1800],[18.9,1400],[19.1,1700],[19.3,1350],[19.5,1650],[19.7,1300],[19.9,1600],[20.1,1350],[20.3,1550],[20.5,1300],[20.7,1500],[20.9,1350],[21.1,1500],[21.3,1200],[21.5,600],[21.7,300],[21.9,800],[22.1,1150],[22.4,1100],[22.7,1200],[23.0,1100],[23.3,1150],[23.6,900],[23.9,700],[24.2,500],[24.5,600],[24.8,400],[25.1,550],[25.4,350],[25.7,500],[26.0,300],[26.3,450],[26.6,250],[26.9,350],[27.2,150],[27.5,250],[27.8,50],[28.1,100],[28.4,-150],[28.7,-100],[29.0,-400],[29.3,-300],[29.6,-500],[29.9,-400],[30.2,-100],[30.5,100],[30.8,0],[31.1,250],[31.4,200],[31.7,400],[32.0,350],[32.3,550],[32.6,450],[32.9,500],[33.2,300],[33.5,100],[33.8,-300],[34.1,-600],[34.4,-1000],[34.7,-1600],[35.0,-2100],[35.3,-2600],[35.6,-3000],[35.9,-3400],[36.2,-3700],[36.5,-4100],[36.8,-4400],[37.1,-4600],[37.3,-4500],[37.5,-4900],[37.7,-4600],[37.9,-5000],[38.1,-4700],[38.3,-5000],[38.5,-4700],[38.7,-4900],[38.9,-4600],[39.1,-5100],[39.3,-4700],[39.5,-4500],[39.7,-4200],[39.9,-3500],[40.1,-2800],[40.3,-2000],[40.5,-1200],[40.7,-300],[41.0,300],[41.3,500],[41.6,400],[41.9,300],[42.2,450],[42.5,300],[42.8,450],[43.1,350],[43.4,500],[43.7,350],[44.0,450],[44.3,300],[44.6,450],[44.9,300],[45.2,400],[45.5,250],[45.8,400],[46.1,250],[46.4,350],[46.7,200],[47.0,300],[47.3,0],[47.6,-200],[47.9,-500],[48.2,-400],[48.5,-800],[48.8,-700],[49.1,-1100],[49.4,-900],[49.7,-1000],[50.0,-700],[50.3,-800],[50.6,-500],[50.9,-600],[51.2,-300],[51.5,-400],[51.8,-100],[52.1,-200],[52.4,100],[52.7,0],[53.0,300],[53.3,100],[53.6,400],[53.9,200],[54.2,500],[54.65,300]];
const fyRFmeas = [[1.04,270],[6.6,270],[7.0,400],[7.3,600],[7.6,800],[7.9,700],[8.2,950],[8.5,1100],[8.8,900],[9.1,850],[9.4,600],[9.7,450],[10.0,300],[10.3,100],[10.6,-100],[10.9,-300],[11.2,-200],[11.5,-400],[11.8,-100],[12.1,-300],[12.4,0],[12.7,-200],[13.0,0],[13.3,-150],[13.6,50],[13.9,-200],[14.2,-100],[14.5,-300],[14.8,-250],[15.1,-450],[15.4,-350],[15.7,-550],[16.0,-400],[16.3,-600],[16.6,-450],[16.9,-600],[17.2,-700],[17.5,-1000],[17.8,-1400],[18.1,-1700],[18.4,-1900],[18.7,-2200],[18.9,-1700],[19.1,-2000],[19.3,-1600],[19.5,-1850],[19.7,-1500],[19.9,-1750],[20.1,-1400],[20.3,-1650],[20.5,-1400],[20.7,-1600],[20.9,-1350],[21.1,-1500],[21.3,-1100],[21.5,-1000],[21.8,-900],[22.1,-1050],[22.4,-800],[22.7,-500],[23.0,-200],[23.3,200],[23.6,500],[23.9,700],[24.2,900],[24.5,750],[24.8,850],[25.1,650],[25.4,700],[25.7,450],[26.0,450],[26.3,200],[26.6,250],[26.9,0],[27.2,50],[27.5,-200],[27.8,-150],[28.1,-400],[28.4,-350],[28.7,-600],[29.0,-500],[29.3,-800],[29.6,-700],[29.9,-850],[30.2,-650],[30.5,-750],[30.8,-550],[31.1,-700],[31.4,-500],[31.7,-650],[32.0,-450],[32.3,-600],[32.6,-500],[32.9,-650],[33.2,-550],[33.5,-700],[33.8,-1000],[34.1,-1300],[34.4,-1700],[34.7,-2000],[35.0,-2300],[35.3,-2500],[35.6,-2800],[35.9,-2900],[36.2,-3100],[36.5,-3000],[36.8,-3300],[37.1,-3200],[37.3,-3500],[37.5,-3300],[37.7,-3600],[37.9,-3300],[38.1,-3500],[38.3,-3200],[38.5,-3400],[38.7,-3200],[38.9,-3350],[39.1,-3100],[39.3,-3200],[39.5,-2900],[39.7,-2600],[39.9,-2200],[40.1,-1700],[40.3,-1200],[40.5,-700],[40.7,-200],[41.0,100],[41.3,300],[41.6,200],[41.9,350],[42.2,250],[42.5,400],[42.8,250],[43.1,400],[43.4,200],[43.7,350],[44.0,200],[44.3,350],[44.6,200],[44.9,300],[45.2,150],[45.5,300],[45.8,200],[46.1,350],[46.4,250],[46.7,400],[47.0,350],[47.3,500],[47.6,600],[47.9,900],[48.2,800],[48.5,1050],[48.8,850],[49.1,900],[49.4,650],[49.7,700],[50.0,500],[50.3,700],[50.6,450],[50.9,500],[51.2,300],[51.5,350],[51.8,150],[52.1,200],[52.4,0],[52.7,100],[53.0,-100],[53.3,0],[53.6,-200],[53.9,-100],[54.2,-300],[54.65,-500]];
const fyLRmeas = [[1.04,480],[6.6,480],[7.0,700],[7.3,950],[7.6,1000],[7.9,850],[8.2,950],[8.5,800],[8.8,1000],[9.1,900],[9.4,700],[9.7,550],[10.0,400],[10.3,300],[10.6,500],[10.9,800],[11.2,700],[11.5,950],[11.8,600],[12.1,300],[12.4,500],[12.7,200],[13.0,350],[13.3,150],[13.6,400],[13.9,300],[14.2,550],[14.5,400],[14.8,600],[15.1,350],[15.4,500],[15.7,300],[16.0,550],[16.3,400],[16.6,650],[16.9,400],[17.2,550],[17.5,400],[17.8,650],[18.1,800],[18.4,700],[18.7,850],[19.0,750],[19.3,950],[19.6,800],[19.9,900],[20.2,700],[20.5,700],[20.8,500],[21.1,300],[21.4,0],[21.7,-300],[22.0,-500],[22.3,-400],[22.6,-500],[22.9,-300],[23.2,0],[23.5,400],[23.8,650],[24.1,800],[24.4,750],[24.7,900],[25.0,800],[25.3,850],[25.6,700],[25.9,800],[26.2,600],[26.5,700],[26.8,500],[27.1,600],[27.4,400],[27.7,500],[28.0,300],[28.3,400],[28.6,200],[28.9,250],[29.2,50],[29.5,-100],[29.8,-300],[30.1,-200],[30.4,-100],[30.7,0],[31.0,-100],[31.3,100],[31.6,0],[31.9,150],[32.2,50],[32.5,200],[32.8,100],[33.1,250],[33.4,100],[33.7,-200],[34.0,-600],[34.3,-900],[34.6,-1400],[34.9,-1800],[35.2,-2200],[35.5,-2300],[35.8,-2500],[36.1,-2400],[36.4,-2700],[36.7,-2600],[37.0,-2900],[37.2,-3200],[37.4,-2800],[37.6,-3100],[37.8,-2700],[38.0,-3000],[38.2,-2700],[38.4,-2900],[38.6,-2600],[38.8,-2800],[39.0,-2500],[39.2,-2700],[39.4,-2400],[39.6,-2500],[39.8,-2100],[40.0,-1600],[40.2,-1000],[40.4,-500],[40.6,0],[40.9,300],[41.2,450],[41.5,300],[41.8,400],[42.1,250],[42.4,400],[42.7,250],[43.0,350],[43.3,200],[43.6,350],[43.9,200],[44.2,300],[44.5,200],[44.8,350],[45.1,250],[45.4,300],[45.7,200],[46.0,350],[46.3,200],[46.6,300],[46.9,250],[47.2,400],[47.5,300],[47.8,600],[48.1,800],[48.4,1000],[48.7,750],[49.0,850],[49.3,600],[49.6,700],[49.9,500],[50.2,600],[50.5,400],[50.8,550],[51.1,350],[51.4,500],[51.7,300],[52.0,600],[52.3,400],[52.6,700],[52.9,450],[53.2,650],[53.5,350],[53.8,600],[54.1,400],[54.4,650],[54.65,500]];
const fyRRmeas = [[1.04,-580],[6.6,-580],[7.0,-550],[7.3,-700],[7.6,-800],[7.9,-900],[8.2,-750],[8.5,-850],[8.8,-600],[9.1,-700],[9.4,-500],[9.7,-550],[10.0,-400],[10.3,-500],[10.6,-350],[10.9,-450],[11.2,-400],[11.5,-550],[11.8,-600],[12.1,-800],[12.4,-700],[12.7,-850],[13.0,-600],[13.3,-500],[13.6,-350],[13.9,-450],[14.2,-300],[14.5,-400],[14.8,-300],[15.1,-450],[15.4,-350],[15.7,-500],[16.0,-400],[16.3,-550],[16.6,-450],[16.9,-600],[17.2,-550],[17.5,-700],[17.8,-800],[18.1,-1000],[18.4,-900],[18.7,-1050],[19.0,-850],[19.3,-950],[19.6,-750],[19.9,-800],[20.2,-500],[20.5,-100],[20.8,400],[21.0,300],[21.3,100],[21.5,-200],[21.8,-400],[22.1,-350],[22.4,-500],[22.7,-450],[23.0,-600],[23.3,-550],[23.6,-700],[23.9,-650],[24.2,-800],[24.5,-700],[24.8,-850],[25.1,-750],[25.4,-900],[25.7,-800],[26.0,-900],[26.3,-750],[26.6,-800],[26.9,-650],[27.2,-700],[27.5,-550],[27.8,-650],[28.1,-550],[28.4,-700],[28.7,-750],[29.0,-900],[29.3,-850],[29.6,-950],[29.9,-800],[30.2,-700],[30.5,-600],[30.8,-650],[31.1,-500],[31.4,-600],[31.7,-450],[32.0,-550],[32.3,-450],[32.6,-550],[32.9,-500],[33.2,-600],[33.5,-650],[33.8,-900],[34.1,-1200],[34.4,-1500],[34.7,-1800],[35.0,-2100],[35.3,-2300],[35.6,-2400],[35.9,-2500],[36.2,-2550],[36.5,-2700],[36.8,-2600],[37.1,-2900],[37.3,-2650],[37.5,-2800],[37.7,-2550],[37.9,-2700],[38.1,-2500],[38.3,-2650],[38.5,-2450],[38.7,-2600],[38.9,-2400],[39.1,-2500],[39.3,-2300],[39.5,-2200],[39.7,-2000],[39.9,-1700],[40.1,-1300],[40.3,-900],[40.5,-600],[40.8,-300],[41.1,-400],[41.4,-350],[41.7,-550],[42.0,-450],[42.3,-600],[42.6,-450],[42.9,-550],[43.2,-400],[43.5,-550],[43.8,-400],[44.1,-500],[44.4,-400],[44.7,-550],[45.0,-450],[45.3,-500],[45.6,-400],[45.9,-500],[46.2,-400],[46.5,-450],[46.8,-350],[47.1,-500],[47.4,-400],[47.7,-550],[48.0,-450],[48.3,-600],[48.6,-500],[48.9,-650],[49.2,-550],[49.5,-700],[49.8,-600],[50.1,-800],[50.4,-700],[50.7,-900],[51.0,-750],[51.3,-950],[51.6,-800],[51.9,-1000],[52.2,-700],[52.5,-900],[52.8,-500],[53.1,-700],[53.4,-400],[53.7,-600],[54.0,-800],[54.3,-650],[54.65,-750]];

// ---------- (d) Mz [Nm] ----------
const mzLFsim = [[1.04,0],[6.5,0],[6.8,10],[7.1,35],[8.2,38],[10.0,40],[11.3,40],[12.0,25],[12.3,0],[12.9,10],[14.1,35],[14.5,45],[15.4,20],[17.1,20],[17.5,0],[18.0,-30],[18.3,-50],[19.1,-70],[20.4,-80],[21.3,-90],[21.5,-120],[21.7,-60],[21.9,-10],[22.6,10],[23.8,20],[25.9,25],[28.05,25],[29.1,35],[29.75,50],[30.6,40],[31.4,20],[32.5,0],[33.1,-5],[33.8,20],[34.4,60],[35.25,130],[36.1,200],[36.8,240],[37.4,260],[38.0,240],[38.6,240],[39.2,215],[39.6,200],[40.1,170],[40.6,76],[41.0,40],[41.4,0],[41.8,-28],[42.4,6],[43.3,20],[43.7,25],[44.55,15],[45.5,11],[46.5,20],[47.5,34],[48.35,38],[49.5,45],[50.5,45],[51.6,42],[52.8,34],[53.8,38],[54.65,35]];
const mzRFsim = [[1.04,-25],[6.5,-25],[7.1,-30],[8.6,-35],[10.3,-30],[11.6,-25],[12.0,0],[12.4,-10],[13.3,-5],[14.1,-10],[15.4,0],[16.6,20],[17.5,20],[18.3,60],[19.0,85],[20.0,90],[21.3,90],[21.5,120],[21.8,40],[22.6,-20],[24.0,-40],[24.7,-45],[25.9,-35],[27.6,-25],[28.9,-20],[30.2,-5],[31.4,0],[32.7,20],[34.0,50],[34.8,90],[35.7,115],[36.9,120],[38.6,115],[39.35,103],[39.8,90],[40.4,60],[41.0,25],[41.6,5],[42.2,-9],[43.7,-9],[45.5,-9],[46.5,-15],[47.5,-21],[48.5,-28],[49.5,-32],[50.5,-30],[51.6,-28],[52.5,-20],[53.6,-15],[54.65,-20]];
const mzLRsim = [[1.04,0],[6.5,0],[7.1,15],[8.6,20],[9.9,25],[11.6,15],[12.2,5],[13.3,10],[14.1,0],[14.9,15],[15.8,10],[17.1,-10],[17.5,-20],[18.3,-30],[20.0,-35],[21.3,-30],[21.5,-55],[21.7,-10],[22.3,0],[24.2,5],[25.9,10],[27.6,5],[28.9,15],[30.2,25],[31.4,20],[32.7,10],[34.0,30],[34.8,100],[35.7,170],[36.5,200],[37.15,210],[38.0,185],[39.35,160],[39.9,140],[40.6,50],[41.0,14],[41.8,-10],[42.4,-15],[43.7,-17],[45.5,-15],[46.5,-5],[47.5,14],[48.3,20],[49.5,17],[51.6,17],[52.5,20],[53.6,25],[54.65,15]];
const mzRRsim = [[1.04,0],[6.5,0],[7.1,-15],[8.6,-5],[10.7,-5],[12.4,0],[14.1,5],[15.4,10],[16.6,15],[18.3,35],[20.0,40],[21.3,35],[21.9,20],[22.6,0],[23.8,-20],[24.7,-25],[25.9,-15],[27.6,0],[29.3,20],[30.2,30],[31.4,30],[32.7,20],[34.0,35],[34.8,50],[36.5,55],[38.2,50],[39.35,60],[39.8,55],[40.6,29],[41.2,10],[41.8,18],[43.3,29],[44.5,22],[46.0,18],[47.5,14],[49.5,11],[51.6,18],[53.5,14],[54.65,10]];
const mzLFmeas = [[1.04,-3],[6.5,-3],[6.9,10],[7.1,60],[7.3,20],[7.5,80],[7.7,30],[7.9,60],[8.1,20],[8.3,55],[8.5,25],[8.8,60],[9.1,20],[9.4,50],[9.7,25],[10.0,55],[10.3,20],[10.6,45],[10.9,15],[11.2,40],[11.5,10],[11.8,30],[12.1,-10],[12.4,-40],[12.7,-20],[13.0,-60],[13.3,-30],[13.6,-70],[13.9,-20],[14.2,20],[14.5,50],[14.8,10],[15.1,40],[15.4,0],[15.7,20],[16.0,-20],[16.3,10],[16.6,-30],[16.9,0],[17.2,-40],[17.5,-60],[17.8,-100],[18.1,-150],[18.4,-220],[18.6,-180],[18.8,-270],[19.0,-200],[19.2,-330],[19.4,-230],[19.6,-300],[19.8,-220],[20.0,-340],[20.2,-230],[20.4,-280],[20.6,-200],[20.8,-250],[21.0,-170],[21.2,-200],[21.4,-120],[21.6,-100],[21.9,-50],[22.2,-20],[22.5,0],[22.8,20],[23.0,-30],[23.2,-120],[23.4,-205],[23.6,-60],[23.9,10],[24.2,-10],[24.5,25],[24.8,0],[25.1,30],[25.4,5],[25.7,30],[26.0,10],[26.3,35],[26.6,10],[26.9,35],[27.2,15],[27.5,35],[27.8,20],[28.1,40],[28.4,25],[28.7,45],[29.0,25],[29.3,40],[29.6,20],[29.9,30],[30.2,0],[30.5,-20],[30.8,-50],[31.1,-30],[31.4,-70],[31.7,-40],[32.0,-80],[32.3,-45],[32.6,-75],[32.9,-40],[33.2,-60],[33.5,-20],[33.8,0],[34.1,40],[34.4,90],[34.7,140],[35.0,170],[35.3,220],[35.6,200],[35.9,260],[36.2,230],[36.5,290],[36.8,250],[37.1,310],[37.4,260],[37.7,320],[38.0,270],[38.3,330],[38.6,260],[38.9,300],[39.2,240],[39.5,270],[39.8,180],[40.1,150],[40.4,100],[40.7,60],[41.0,20],[41.3,-10],[41.6,-50],[41.8,-90],[42.0,-30],[42.3,0],[42.6,20],[42.9,-10],[43.2,25],[43.5,-5],[43.8,20],[44.1,-10],[44.4,20],[44.7,-15],[45.0,15],[45.3,-10],[45.6,20],[45.9,0],[46.2,30],[46.5,10],[46.8,40],[47.1,20],[47.4,60],[47.7,30],[48.0,70],[48.3,35],[48.6,80],[48.9,40],[49.2,75],[49.5,35],[49.8,70],[50.1,30],[50.4,65],[50.7,30],[51.0,60],[51.3,25],[51.6,60],[51.9,30],[52.2,55],[52.5,20],[52.8,55],[53.1,25],[53.4,50],[53.7,20],[54.0,45],[54.3,15],[54.65,40]];
const mzRFmeas = [[1.04,-22],[6.5,-22],[6.9,-30],[7.1,-55],[7.4,-25],[7.7,-50],[8.0,-20],[8.3,-45],[8.6,-15],[8.9,-45],[9.2,-20],[9.5,-40],[9.8,-10],[10.1,-35],[10.4,-5],[10.7,-25],[11.0,0],[11.3,30],[11.6,60],[11.9,20],[12.2,80],[12.5,30],[12.8,50],[13.1,0],[13.4,30],[13.7,-10],[14.0,20],[14.3,-15],[14.6,20],[14.9,0],[15.2,30],[15.5,10],[15.8,40],[16.1,30],[16.4,60],[16.7,40],[17.0,80],[17.3,70],[17.6,120],[17.9,100],[18.1,180],[18.3,150],[18.5,260],[18.7,200],[18.9,310],[19.1,220],[19.3,290],[19.5,200],[19.7,310],[19.9,210],[20.1,280],[20.3,180],[20.5,250],[20.7,150],[20.9,200],[21.1,120],[21.3,80],[21.5,30],[21.8,-20],[22.1,-40],[22.4,-20],[22.7,-50],[23.0,-30],[23.3,-60],[23.6,-35],[23.9,-65],[24.2,-40],[24.5,-60],[24.8,-30],[25.1,-50],[25.4,-20],[25.7,-40],[26.0,-10],[26.3,-25],[26.6,5],[26.9,-10],[27.2,20],[27.5,5],[27.8,30],[28.1,15],[28.4,40],[28.7,25],[29.0,45],[29.3,30],[29.6,55],[29.9,35],[30.2,60],[30.5,45],[30.8,70],[31.1,55],[31.4,80],[31.7,65],[32.0,90],[32.3,75],[32.6,100],[32.9,85],[33.2,110],[33.5,95],[33.8,120],[34.1,105],[34.4,130],[34.7,115],[35.0,140],[35.3,130],[35.6,170],[35.9,140],[36.2,180],[36.5,150],[36.8,190],[37.1,155],[37.4,200],[37.7,160],[38.0,195],[38.3,150],[38.6,185],[38.9,145],[39.2,175],[39.5,130],[39.8,110],[40.1,80],[40.4,60],[40.7,30],[41.0,10],[41.3,-10],[41.6,0],[41.9,20],[42.2,30],[42.5,10],[42.8,35],[43.1,15],[43.4,40],[43.7,15],[44.0,35],[44.3,10],[44.6,30],[44.9,5],[45.2,25],[45.5,0],[45.8,20],[46.1,-10],[46.4,5],[46.7,-20],[47.0,-5],[47.3,-30],[47.6,-10],[47.9,-40],[48.2,-15],[48.5,-45],[48.8,-20],[49.1,-50],[49.4,-20],[49.7,-45],[50.0,-15],[50.3,-40],[50.6,-10],[50.9,-35],[51.2,-5],[51.5,-30],[51.8,-5],[52.1,-30],[52.4,0],[52.7,-25],[53.0,5],[53.3,-20],[53.6,0],[53.9,-30],[54.2,-10],[54.65,-40]];
const mzLRmeas = [[1.04,21],[6.5,21],[6.9,30],[7.1,100],[7.3,70],[7.5,110],[7.7,75],[7.9,95],[8.1,65],[8.4,90],[8.7,60],[9.0,85],[9.3,55],[9.6,80],[9.9,50],[10.2,70],[10.5,40],[10.8,65],[11.1,35],[11.4,60],[11.7,30],[12.0,50],[12.3,20],[12.6,40],[12.9,10],[13.2,30],[13.5,5],[13.8,40],[14.1,10],[14.4,35],[14.7,-10],[15.0,10],[15.3,-25],[15.6,0],[15.9,-30],[16.2,-10],[16.5,-40],[16.8,-30],[17.1,-60],[17.4,-45],[17.7,-75],[18.0,-50],[18.3,-85],[18.6,-55],[18.9,-90],[19.2,-50],[19.5,-100],[19.8,-60],[20.1,-95],[20.4,-55],[20.7,-90],[21.0,-50],[21.3,-70],[21.6,-30],[21.9,0],[22.2,10],[22.5,30],[22.8,20],[23.1,45],[23.4,35],[23.7,65],[24.0,55],[24.3,85],[24.6,70],[24.9,100],[25.2,75],[25.5,90],[25.8,60],[26.1,75],[26.4,45],[26.7,60],[27.0,35],[27.3,50],[27.6,25],[27.9,40],[28.2,20],[28.5,40],[28.8,20],[29.1,35],[29.4,15],[29.7,35],[30.0,15],[30.3,30],[30.6,10],[30.9,25],[31.2,15],[31.5,35],[31.8,20],[32.1,40],[32.4,30],[32.7,55],[33.0,45],[33.3,70],[33.6,60],[33.9,90],[34.2,80],[34.5,115],[34.8,110],[35.1,145],[35.4,140],[35.7,175],[36.0,165],[36.3,200],[36.6,185],[36.9,225],[37.2,195],[37.5,235],[37.8,200],[38.1,230],[38.4,190],[38.7,220],[39.0,175],[39.3,195],[39.6,150],[39.9,130],[40.2,90],[40.5,55],[40.8,30],[41.1,10],[41.4,-5],[41.7,-20],[42.0,0],[42.3,-25],[42.6,-5],[42.9,-30],[43.2,-5],[43.5,-25],[43.8,0],[44.1,-20],[44.4,5],[44.7,-15],[45.0,5],[45.3,-20],[45.6,0],[45.9,-15],[46.2,5],[46.5,-10],[46.8,10],[47.1,30],[47.4,70],[47.7,60],[48.0,95],[48.3,75],[48.6,100],[48.9,80],[49.2,100],[49.5,70],[49.8,90],[50.1,60],[50.4,80],[50.7,55],[51.0,75],[51.3,50],[51.6,70],[51.9,45],[52.2,70],[52.5,45],[52.8,65],[53.1,40],[53.4,65],[53.7,40],[54.0,60],[54.3,40],[54.65,55]];
const mzRRmeas = [[1.04,0],[6.5,0],[6.9,-20],[7.1,-70],[7.3,-100],[7.5,-65],[7.7,-105],[7.9,-70],[8.1,-110],[8.4,-75],[8.7,-105],[9.0,-70],[9.3,-95],[9.6,-65],[9.9,-90],[10.2,-60],[10.5,-80],[10.8,-50],[11.1,-70],[11.4,-40],[11.7,-60],[12.0,-30],[12.3,-55],[12.6,-30],[12.9,-50],[13.2,-25],[13.5,-45],[13.8,-20],[14.1,-40],[14.4,-15],[14.7,-30],[15.0,-5],[15.3,-20],[15.6,5],[15.9,-5],[16.2,15],[16.5,5],[16.8,25],[17.1,15],[17.4,30],[17.7,20],[18.0,45],[18.3,30],[18.6,70],[18.8,20],[19.0,80],[19.2,30],[19.4,60],[19.6,0],[19.8,50],[20.0,-20],[20.2,40],[20.4,-40],[20.6,30],[20.8,-70],[21.0,20],[21.3,30],[21.6,10],[21.9,-20],[22.2,-30],[22.5,-45],[22.8,-40],[23.1,-60],[23.4,-55],[23.7,-80],[24.0,-70],[24.3,-100],[24.6,-75],[24.9,-95],[25.2,-70],[25.5,-85],[25.8,-60],[26.1,-75],[26.4,-50],[26.7,-65],[27.0,-40],[27.3,-55],[27.6,-30],[27.9,-40],[28.2,-20],[28.5,-30],[28.8,-10],[29.1,-15],[29.4,0],[29.7,-5],[30.0,10],[30.3,0],[30.6,15],[30.9,5],[31.2,20],[31.5,10],[31.8,25],[32.1,15],[32.4,30],[32.7,20],[33.0,35],[33.3,25],[33.6,40],[33.9,30],[34.2,45],[34.5,35],[34.8,55],[35.1,40],[35.4,60],[35.7,40],[36.0,60],[36.3,45],[36.6,65],[36.9,45],[37.2,60],[37.4,110],[37.6,45],[37.9,60],[38.2,40],[38.5,55],[38.8,45],[39.1,70],[39.4,90],[39.7,60],[40.0,55],[40.3,40],[40.6,20],[40.9,10],[41.2,-10],[41.5,0],[41.8,20],[42.1,30],[42.4,15],[42.7,35],[43.0,20],[43.3,35],[43.6,15],[43.9,30],[44.2,10],[44.5,25],[44.8,5],[45.1,20],[45.4,0],[45.7,15],[46.0,-5],[46.3,10],[46.6,-10],[46.9,-5],[47.2,-30],[47.5,-60],[47.8,-45],[48.1,-80],[48.4,-65],[48.7,-100],[49.0,-70],[49.3,-95],[49.6,-65],[49.9,-90],[50.2,-60],[50.5,-85],[50.8,-55],[51.1,-80],[51.4,-50],[51.7,-75],[52.0,-45],[52.3,-70],[52.6,-40],[52.9,-65],[53.2,-35],[53.5,-60],[53.8,-30],[54.1,-55],[54.4,-30],[54.65,-50]];

// panel layout (plot areas)
const panels = [
  { id: "a", x: 74, y: 14.3, w: 439, h: 345.7, yDomain: [-12000, 6000], yTicks: fxTicks, yLabel: "Fx [N]", yLabelOffset: 54,
    caption: ["(a) Tractive force (", "F", "x", ")"], capX: 280, capY: 444,
    sim: [fxLFsim, fxRFsim, fxLRsim, fxRRsim], meas: [fxLFmeas, fxRFmeas, fxLRmeas, fxRRmeas] },
  { id: "b", x: 646.5, y: 14.3, w: 439, h: 345.7, yDomain: [2000, 9000], yTicks: fzTicks, yLabel: "Fz [N]", yLabelOffset: 40,
    caption: ["(b) Vertical force (", "F", "z", ")"], capX: 856, capY: 444,
    sim: [fzLFsim, fzRFsim, fzLRsim, fzRRsim], meas: [fzLFmeas, fzRFmeas, fzLRmeas, fzRRmeas] },
  { id: "c", x: 74, y: 485.7, w: 439, h: 346, yDomain: [-6000, 2000], yTicks: fyTicks, yLabel: "Fy [N]", yLabelOffset: 46,
    caption: ["(c) Lateral force (", "F", "y", ")"], capX: 276, capY: 916, legend: true,
    sim: [fyLFsim, fyRFsim, fyLRsim, fyRRsim], meas: [fyLFmeas, fyRFmeas, fyLRmeas, fyRRmeas] },
  { id: "d", x: 646.5, y: 485.7, w: 439, h: 346, yDomain: [-400, 400], yTicks: mzTicks, yLabel: "Mz [Nm]", yLabelOffset: 38,
    caption: ["(d) Self aligning moment (", "M", "z", ")"], capX: 856, capY: 916,
    sim: [mzLFsim, mzRFsim, mzLRsim, mzRRsim], meas: [mzLFmeas, mzRFmeas, mzLRmeas, mzRRmeas] }
];

const svg = d3.select("#fig");
const defs = svg.append("defs");
const sansFont = "'Liberation Sans', Arial, Helvetica, sans-serif";
const ink = "#262626";

panels.forEach(p => {
  const g = svg.append("g").attr("transform", `translate(${p.x},${p.y})`);
  const x = d3.scaleLinear().domain(timeDomain).range([0, p.w]);
  const y = d3.scaleLinear().domain(p.yDomain).range([p.h, 0]);

  // grid
  g.append("g").selectAll("line").data(timeTicks).join("line")
    .attr("x1", d => x(d)).attr("x2", d => x(d))
    .attr("y1", 0).attr("y2", p.h)
    .attr("stroke", "#e0e0e0").attr("stroke-width", 1.5);
  g.append("g").selectAll("line").data(p.yTicks).join("line")
    .attr("x1", 0).attr("x2", p.w)
    .attr("y1", d => y(d)).attr("y2", d => y(d))
    .attr("stroke", "#e0e0e0").attr("stroke-width", 1.5);

  // lines, clipped to plot area
  defs.append("clipPath").attr("id", "clip-" + p.id)
    .append("rect").attr("width", p.w).attr("height", p.h);
  const plot = g.append("g").attr("clip-path", `url(#clip-${p.id})`);
  const line = d3.line().x(d => x(d[0])).y(d => y(d[1]));

  // measured first, simulated on top
  p.meas.forEach((s, i) => {
    plot.append("path").datum(s)
      .attr("d", line)
      .attr("fill", "none")
      .attr("stroke", measColors[i])
      .attr("stroke-width", 1.7)
      .attr("stroke-linejoin", "round");
  });
  [3, 2, 1, 0].forEach(i => {
    plot.append("path").datum(p.sim[i])
      .attr("d", line)
      .attr("fill", "none")
      .attr("stroke", simColors[i])
      .attr("stroke-width", 2)
      .attr("stroke-linejoin", "round");
  });

  // axes (MATLAB style: ticks inside, no box)
  const yAxis = g.append("g")
    .call(d3.axisLeft(y).tickValues(p.yTicks).tickSize(-4).tickSizeOuter(0).tickPadding(5.5).tickFormat(d3.format("d")));
  const xAxis = g.append("g")
    .attr("transform", `translate(0,${p.h})`)
    .call(d3.axisBottom(x).tickValues(timeTicks).tickSize(-4).tickSizeOuter(0).tickPadding(10));
  [yAxis, xAxis].forEach(ax => {
    ax.select(".domain").attr("stroke", ink).attr("stroke-width", 1.6);
    ax.selectAll(".tick line").attr("stroke", ink).attr("stroke-width", 1.4);
    ax.selectAll(".tick text").attr("fill", ink)
      .style("font-family", sansFont).style("font-size", "12.5px");
  });

  // axis labels
  g.append("text")
    .attr("x", p.w / 2).attr("y", p.h + 37)
    .attr("text-anchor", "middle")
    .style("font-family", sansFont).style("font-size", "12px")
    .attr("fill", ink)
    .text("Time [s]");
  g.append("text")
    .attr("transform", `translate(${-p.yLabelOffset},${p.h / 2}) rotate(-90)`)
    .attr("text-anchor", "middle")
    .style("font-family", sansFont).style("font-size", "12px")
    .attr("fill", ink)
    .text(p.yLabel);

  // caption under the subplot
  const cap = svg.append("text")
    .attr("x", p.capX).attr("y", p.capY)
    .attr("text-anchor", "middle")
    .style("font-family", "'Liberation Serif', 'Times New Roman', serif")
    .style("font-size", "25px")
    .attr("fill", "#111");
  cap.append("tspan").text(p.caption[0]);
  cap.append("tspan").style("font-style", "italic").text(p.caption[1]);
  cap.append("tspan").style("font-style", "italic").style("font-size", "17px").attr("dy", 5).text(p.caption[2]);
  cap.append("tspan").attr("dy", -5).text(p.caption[3]);

  // legend (panel c only)
  if (p.legend) {
    const lg = g.append("g").attr("transform", "translate(10,208.6)");
    lg.append("rect").attr("width", 150).attr("height", 120)
      .attr("fill", "#fff").attr("stroke", ink).attr("stroke-width", 1.3);
    const legendColors = simColors.concat(measColors);
    seriesNames.forEach((name, i) => {
      const yy = 10.7 + i * 14.4;
      lg.append("line").attr("x1", 4).attr("x2", 35).attr("y1", yy).attr("y2", yy)
        .attr("stroke", legendColors[i]).attr("stroke-width", 2);
      lg.append("text").attr("x", 37.5).attr("y", yy + 4)
        .style("font-family", sansFont).style("font-size", "11.4px")
        .attr("fill", "#000").text(name);
    });
  }
});
</script>
</body>
</html>
